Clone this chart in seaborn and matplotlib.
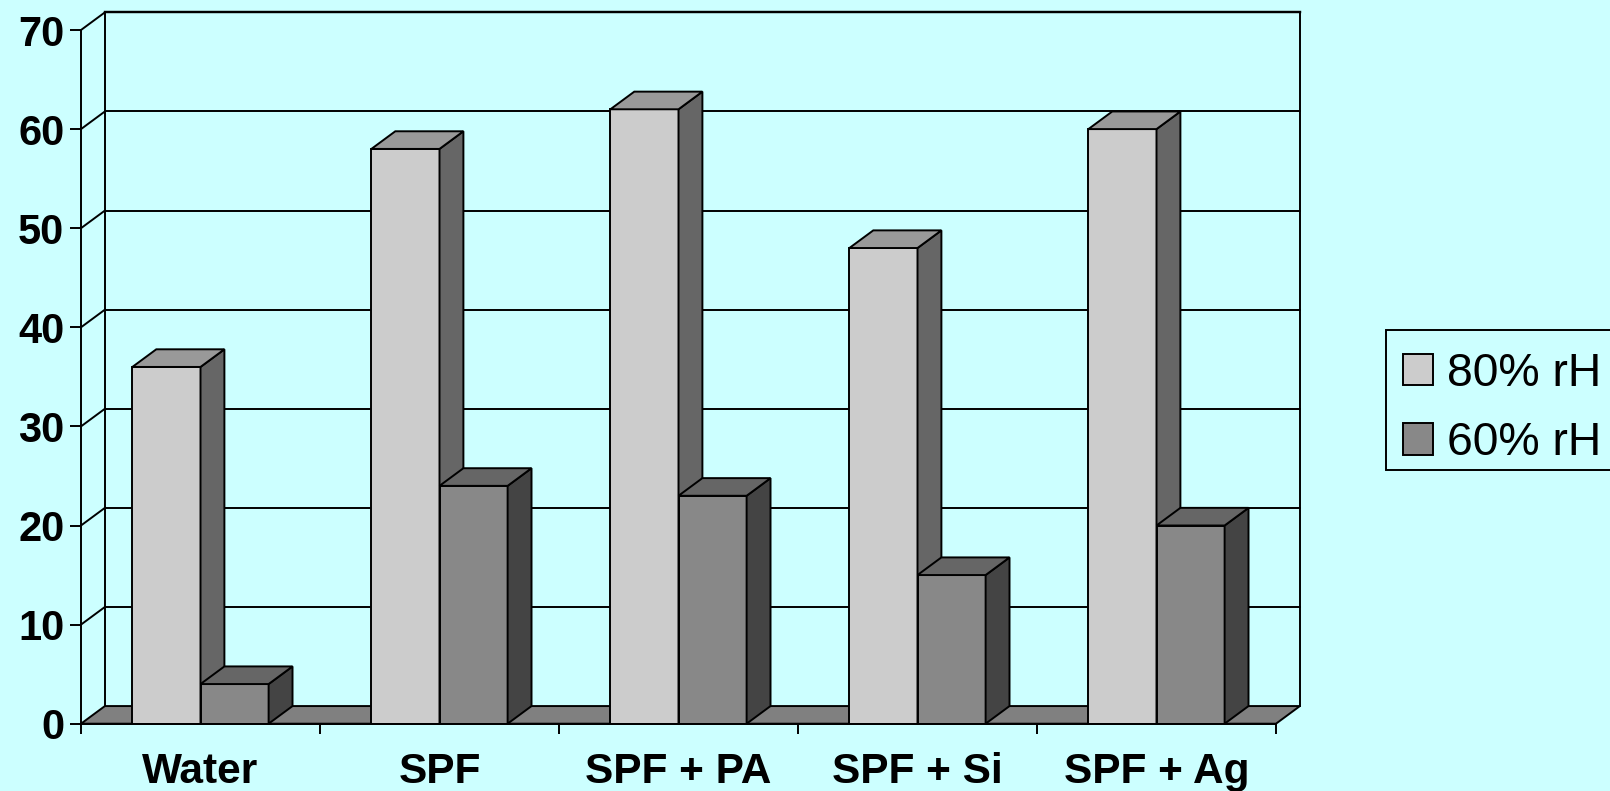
import matplotlib
matplotlib.use("Agg")
import matplotlib.pyplot as plt
from matplotlib.patches import Polygon, Rectangle
import pandas as pd
import seaborn as sns

categories = ["Water", "SPF", "SPF + PA", "SPF + Si", "SPF + Ag"]
series_names = ["80% rH", "60% rH"]
humid_80 = [36, 58, 62, 48, 60]
humid_60 = [4, 24, 23, 15, 20]
y_ticks = [0, 10, 20, 30, 40, 50, 60, 70]

BACKGROUND = "#CCFFFF"
FRONT = ["#CCCCCC", "#888888"]
SIDE = ["#666666", "#444444"]
TOP = ["#999999", "#666666"]
FLOOR = "#808080"
LW = 1.4

# Oblique offset of the back wall, in category units and value units
DEPTH_X = 0.1
DEPTH_Y = 1.78

W, H = 1610, 791
sns.set_theme(style="white")
plt.rcParams["font.family"] = ["Liberation Sans", "DejaVu Sans"]

fig = plt.figure(figsize=(W / 100, H / 100), dpi=100, facecolor=BACKGROUND)
ax = fig.add_axes([81 / W, 1 - 723.7 / H, 1195 / W, 693.7 / H])
ax.patch.set_visible(False)

df = pd.DataFrame({
    "category": categories * 2,
    "humidity": [series_names[0]] * 5 + [series_names[1]] * 5,
    "value": humid_80 + humid_60,
})
sns.barplot(data=df, x="category", y="value", hue="humidity", order=categories,
            hue_order=series_names, palette=FRONT, saturation=1, width=0.57,
            gap=0, edgecolor="black", linewidth=LW, ax=ax)

x0, x1 = -0.5, 4.5
y0, y1 = y_ticks[0], y_ticks[-1]
ax.set_xlim(x0, x1)
ax.set_ylim(y0, y1)


def face(points, color, z):
    ax.add_patch(Polygon(points, closed=True, facecolor=color, edgecolor="black",
                         linewidth=LW, joinstyle="miter", zorder=z, clip_on=False))


def line(xs, ys, lw=LW, z=1.5):
    ax.plot(xs, ys, color="black", lw=lw, zorder=z, clip_on=False,
            solid_capstyle="projecting")


# Back wall, its gridlines and the obliques running to the front axis
line([x0 + DEPTH_X] * 2, [y0 + DEPTH_Y, y1 + DEPTH_Y])
line([x1 + DEPTH_X] * 2, [y0 + DEPTH_Y, y1 + DEPTH_Y])
for v in y_ticks[1:]:
    lw = LW * 1.25 if v == y_ticks[-1] else LW
    line([x0 + DEPTH_X, x1 + DEPTH_X], [v + DEPTH_Y] * 2, lw=lw)
    line([x0, x0 + DEPTH_X], [v, v + DEPTH_Y])

# Floor
face([(x0, y0), (x0 + DEPTH_X, y0 + DEPTH_Y), (x1 + DEPTH_X, y0 + DEPTH_Y), (x1, y0)],
     FLOOR, 1.8)

# Extrude every bar backwards: side face and top face
for i, container in enumerate(ax.containers):
    z = 3 + i
    for bar in container:
        bar.set_zorder(z)
        bar.set_joinstyle("miter")
        left, right = bar.get_x(), bar.get_x() + bar.get_width()
        top = bar.get_height()
        face([(right, y0), (right + DEPTH_X, y0 + DEPTH_Y),
              (right + DEPTH_X, top + DEPTH_Y), (right, top)], SIDE[i], z)
        face([(left, top), (left + DEPTH_X, top + DEPTH_Y),
              (right + DEPTH_X, top + DEPTH_Y), (right, top)], TOP[i], z)

# Axes
for name in ("top", "right"):
    ax.spines[name].set_visible(False)
for name in ("left", "bottom"):
    ax.spines[name].set_visible(True)
    ax.spines[name].set_color("black")
    ax.spines[name].set_linewidth(LW)
    ax.spines[name].set_zorder(6)

ax.set_xlabel("")
ax.set_ylabel("")
ax.set_yticks(y_ticks)
ax.tick_params(axis="y", left=True, length=8, width=LW, color="black", pad=4,
               labelsize=30, labelcolor="black")
ax.set_xticks(range(len(categories)))
ax.set_xticklabels(categories)
ax.set_xticks([x0 + k for k in range(len(categories) + 1)], minor=True)
ax.tick_params(axis="x", which="major", bottom=False, length=0, pad=20.5,
               labelsize=30.5, labelcolor="black")
ax.tick_params(axis="x", which="minor", bottom=True, length=7.5, width=LW, color="black")
for label in ax.get_xticklabels() + ax.get_yticklabels():
    label.set_fontweight("bold")

# Legend frame runs off the right edge of the canvas
fig.add_artist(Rectangle((1386 / W, 1 - 470 / H), 240 / W, 140 / H,
                         transform=fig.transFigure, facecolor=BACKGROUND,
                         edgecolor="black", linewidth=LW, zorder=2))
handles, labels = ax.get_legend_handles_labels()
ax.get_legend().remove()
leg = fig.legend(handles, labels, loc="upper left",
                 bbox_to_anchor=(1386 / W, 1 - 335 / H), borderaxespad=0,
                 fontsize=33.4, labelcolor="black", frameon=False,
                 handlelength=0.66, handleheight=0.66, handletextpad=0.29,
                 borderpad=0.36, labelspacing=0.55)
leg.set_zorder(3)

fig.savefig("out.png", dpi=100, facecolor=BACKGROUND)
